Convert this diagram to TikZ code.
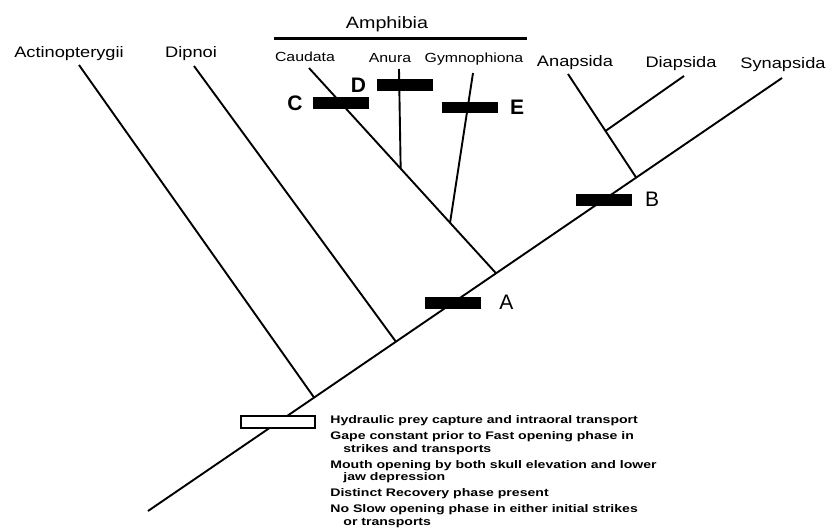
\documentclass[tikz,border=0pt]{standalone}
\usepackage{fontspec}
\setmainfont{Liberation Sans}
\newfontfamily\taxonfont[FakeStretch=1.2]{Liberation Sans}
\newfontfamily\notefont[FakeStretch=1.28]{Liberation Sans Bold}
\usetikzlibrary{positioning, calc}
\tikzset{
    taxon/.style={inner sep=0pt, font=\taxonfont\fontsize{7.6}{9}\selectfont},
    subtaxon/.style={inner sep=0pt, font=\taxonfont\fontsize{6.6}{8}\selectfont},
    branch/.style={line width=0.95pt},
    synbar/.style={rectangle, draw, fill=black, minimum width=27pt, minimum height=5pt, inner sep=0pt},
    openbar/.style={rectangle, draw, fill=white, line width=1.1pt, minimum width=37pt, minimum height=6pt, inner sep=0pt},
    barlabel/.style={inner sep=0pt, font=\fontsize{10.5}{12}\selectfont},
    boldlabel/.style={inner sep=0pt, font=\bfseries\fontsize{10.5}{12}\selectfont},
}

\begin{document}
\begin{tikzpicture}[x=0.5pt, y=-0.5pt]
    \useasboundingbox (0,0) rectangle (831,530);
    % taxa
    \node[taxon] (act) at (69,54) {Actinopterygii};
    \node[taxon] (dip) at (191,54) {Dipnoi};
    \node[subtaxon] (cau) at (305,57) {Caudata};
    \node[subtaxon] (anu) at (390,58) {Anura};
    \node[subtaxon] (gym) at (474,59) {Gymnophiona};
    \node[taxon] (ana) at (575,63) {Anapsida};
    \node[taxon] (dia) at (681,64) {Diapsida};
    \node[taxon] (syn) at (783,65) {Synapsida};
    \node[taxon, font=\taxonfont\fontsize{8.2}{10}\selectfont] (amph) at (387,24) {Amphibia};
    \coordinate (amL) at (274,38);
    \coordinate (amR) at (527,38);
    \draw[line width=1.5pt] (amL) -- (amR);
    % branch tips and nodes
    \coordinate (actT) at (79,65);
    \coordinate (dipT) at (194,66);
    \coordinate (cauT) at (309,68);
    \coordinate (anuT) at (399,69);
    \coordinate (gymT) at (473,73);
    \coordinate (anaT) at (568,74);
    \coordinate (diaT) at (684,76);
    \coordinate (synT) at (782,78);
    \coordinate (root) at (148,511);
    \coordinate (jAct) at ($(root)!0.262!(synT)$);
    \coordinate (jDip) at ($(root)!0.391!(synT)$);
    \coordinate (jAmph) at ($(root)!0.549!(synT)$);
    \coordinate (jRept) at ($(root)!0.770!(synT)$);
    \coordinate (jAnu) at ($(cauT)!0.49!(jAmph)$);
    \coordinate (jGym) at ($(cauT)!0.754!(jAmph)$);
    \coordinate (jDia) at ($(anaT)!0.55!(jRept)$);
    % trunk with synapomorphy bars
    \draw[branch] (root) -- node[openbar, pos=0.205] (bar0) {} node[synbar, pos=0.481] (barA) {} node[synbar, pos=0.719] (barB) {} (synT);
    \foreach \t/\j in {actT/jAct, dipT/jDip, diaT/jDia, anaT/jRept} { \draw[branch] (\t) -- (\j); }
    \draw[branch] (cauT) -- node[synbar, pos=0.17] (barC) {} (jAmph);
    \draw[branch] (anuT) -- node[synbar, pos=0.16, xshift=3pt] (barD) {} (jAnu);
    \draw[branch] (gymT) -- node[synbar, pos=0.23, xshift=1pt] (barE) {} (jGym);
    \node[barlabel, right=9pt of barA] (labA) {A};
    \node[barlabel, right=6.5pt of barB] (labB) {B};
    \node[boldlabel, left=5pt of barC] (labC) {C};
    \node[boldlabel, left=5.5pt of barD] (labD) {D};
    \node[boldlabel, right=6pt of barE] (labE) {E};
    % character list
    \node[anchor=north west, inner sep=0pt, align=left, font=\notefont\fontsize{5.5}{6.4}\selectfont] (traits) at (330,415) {Hydraulic prey capture and intraoral transport\\[1.6pt]
        Gape constant prior to Fast opening phase in\\
        \hspace*{6.5pt}strikes and transports\\[1.6pt]
        Mouth opening by both skull elevation and lower\\
        \hspace*{6.5pt}jaw depression\\[1.6pt]
        Distinct Recovery phase present\\[1.6pt]
        No Slow opening phase in either initial strikes\\
        \hspace*{6.5pt}or transports};
\end{tikzpicture}
\end{document}
